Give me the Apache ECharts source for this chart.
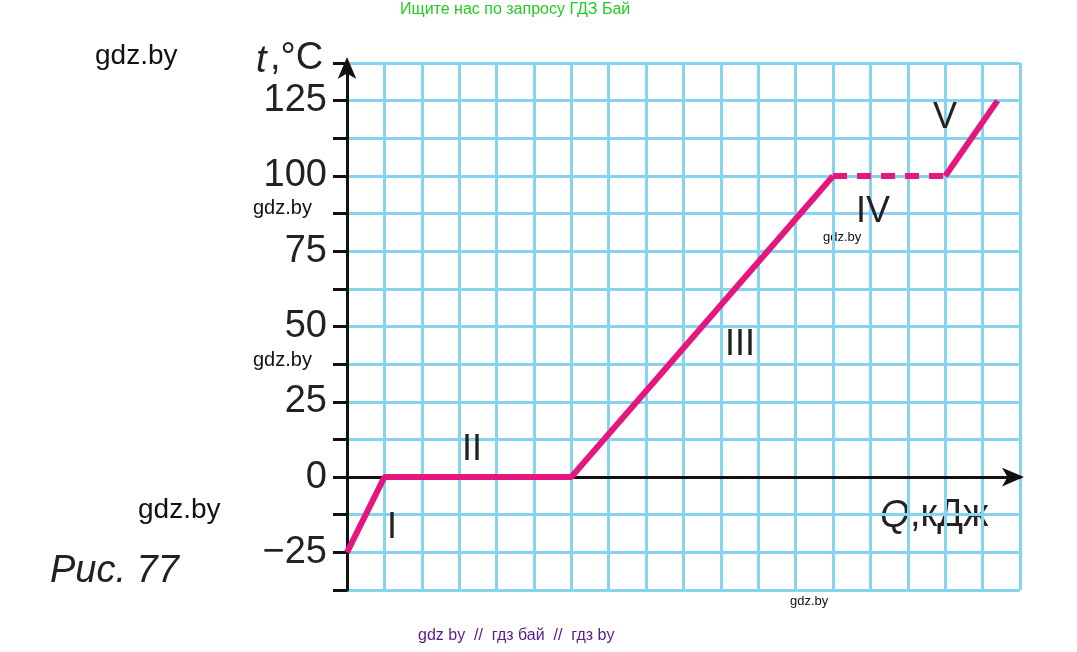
<!DOCTYPE html>
<html><head><meta charset="utf-8">
<script src="https://cdn.jsdelivr.net/npm/echarts@6/dist/echarts.min.js"></script>
<style>html,body{margin:0;background:#fff}#c{width:1077px;height:652px}</style>
</head><body><div id="c"></div>
<script>
// данные графика (Q в клетках, t в °C)
var solidPts = [[0, -25], [1, 0], [6, 0], [13, 100]];
var dashPts = [[13, 100], [16, 100]];
var lastPts = [[16, 100], [17.4, 125]];
var yTicks = [-25, 0, 25, 50, 75, 100, 125];
var stages = [
  { name: 'I', x: 392, y: 528 }, { name: 'II', x: 472, y: 450 },
  { name: 'III', x: 740, y: 345 }, { name: 'IV', x: 873, y: 212 }, { name: 'V', x: 945, y: 118 }
];

var chart = echarts.init(document.getElementById('c'));
var pink = '#e5177f';
var font = '"Liberation Sans", Arial, sans-serif';
var gfx = stages.map(function (s) {
  return { type: 'text', x: s.x, y: s.y, z: 100, style: { text: s.name, font: '36px ' + font, fill: '#222', align: 'center', verticalAlign: 'middle' } };
});
gfx.push(
  { type: 'text', left: 400, top: 2, style: { text: 'Ищите нас по запросу ГДЗ Бай', font: '16px ' + font, fill: '#22cc22' } },
  { type: 'text', left: 418, top: 628, style: { text: 'gdz by  //  гдз бай  //  гдз by', font: '16px ' + font, fill: '#5a1a8a' } },
  { type: 'text', left: 256, top: 42, style: { text: 't', font: 'italic 38px ' + font, fill: '#222' } },
  { type: 'text', left: 270, top: 40, style: { text: ',°C', font: '38px ' + font, fill: '#222' } },
  { type: 'text', left: 880, top: 497, style: { text: 'Q', font: 'italic 38px ' + font, fill: '#222' } },
  { type: 'text', left: 910, top: 497, style: { text: ',кДж', font: '38px ' + font, fill: '#222' } },
  { type: 'text', left: 50, top: 552, style: { text: 'Рис. 77', font: 'italic 38px ' + font, fill: '#222' } },
  { type: 'text', left: 95, top: 42, style: { text: 'gdz.by', font: '28px ' + font, fill: '#111' } },
  { type: 'text', left: 253, top: 198, style: { text: 'gdz.by', font: '20px ' + font, fill: '#111' } },
  { type: 'text', left: 253, top: 350, style: { text: 'gdz.by', font: '20px ' + font, fill: '#111' } },
  { type: 'text', left: 138, top: 496, style: { text: 'gdz.by', font: '28px ' + font, fill: '#111' } },
  { type: 'text', left: 823, top: 231, style: { text: 'gdz.by', font: '13px ' + font, fill: '#111' } },
  { type: 'text', left: 790, top: 595, style: { text: 'gdz.by', font: '13px ' + font, fill: '#111' } }
);

var option = {
  animation: false,
  grid: { left: 347, right: 57, top: 63, bottom: 62, containLabel: false },
  xAxis: {
    type: 'value', min: 0, max: 18, interval: 1,
    axisLine: { onZero: true, lineStyle: { color: '#111', width: 3 }, symbol: ['none', 'arrow'], symbolSize: [14, 22], symbolOffset: [0, 4] },
    axisTick: { show: false }, axisLabel: { show: false },
    splitLine: { show: true, lineStyle: { color: '#86d3ee', width: 3 } }
  },
  yAxis: {
    type: 'value', min: -37.5, max: 137.5, interval: 12.5,
    axisLine: { onZero: false, lineStyle: { color: '#111', width: 3 }, symbol: ['none', 'arrow'], symbolSize: [14, 22], symbolOffset: [0, 6] },
    axisTick: { show: true, length: 14, inside: false, lineStyle: { color: '#111', width: 3 } },
    axisLabel: {
      fontSize: 38, color: '#222', fontFamily: font, margin: 20,
      formatter: function (v) { return yTicks.indexOf(v) >= 0 ? (v < 0 ? '−' + (-v) : String(v)) : ''; }
    },
    splitLine: { show: true, lineStyle: { color: '#86d3ee', width: 3 } }
  },
  series: [
    { type: 'line', data: solidPts, symbol: 'none', lineStyle: { color: pink, width: 6 } },
    { type: 'line', data: dashPts, symbol: 'none', lineStyle: { color: pink, width: 6, type: [14, 10] } },
    { type: 'line', data: lastPts, symbol: 'none', lineStyle: { color: pink, width: 6 } }
  ],
  graphic: gfx
};
chart.setOption(option);
</script></body></html>
